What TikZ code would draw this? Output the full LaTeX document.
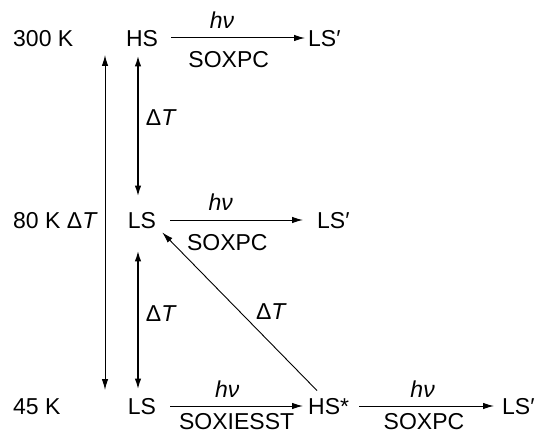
\documentclass[tikz,border=0pt]{standalone}
\usepackage{fontspec}
\setmainfont{Liberation Sans}
\usetikzlibrary{arrows.meta}
\begin{document}
\begin{tikzpicture}[x=1pt,y=-1pt,
  every node/.style={font=\fontsize{23}{27}\selectfont, inner sep=0pt, text height=16.5pt, text depth=0pt},
  arr/.style={-{Latex[length=11pt,width=6.5pt]}, line width=1pt},
  darr/.style={{Latex[length=11pt,width=6.5pt]}-{Latex[length=11pt,width=6.5pt]}},
  thin arr/.style={-{Latex[length=11pt,width=6.5pt]}, line width=0.9pt}]
\useasboundingbox (0,0) rectangle (538,433);
% nodes
\node[anchor=west] (t300) at (13,38) {300 K};
\node (hs1) at (142,38) {HS};
\node[anchor=west] (lsp1) at (308,38) {LS′};
\node[anchor=west] (t80) at (13,220) {80 K Δ\textit{T}};
\node (ls2) at (142,220) {LS};
\node[anchor=west] (lsp2) at (317,220) {LS′};
\node[anchor=west] (t45) at (13,406) {45 K};
\node (ls3) at (142,406) {LS};
\node[anchor=west] (hss) at (308,406) {HS*};
\node[anchor=west] (lsp3) at (502,406) {LS′};
\coordinate (ltop) at (105,55);
\coordinate (lbot) at (105,390);
% horizontal arrows
\draw[arr] ([xshift=13pt]hs1.east) -- ([xshift=-3pt]lsp1.west)
  node[pos=0.38, above=9pt] {\textit{hν}}
  node[pos=0.43, below=13pt] {SOXPC};
\draw[arr] ([xshift=14pt]ls2.east) -- ([xshift=-14pt]lsp2.west)
  node[pos=0.38, above=9pt] {\textit{hν}}
  node[pos=0.43, below=13pt] {SOXPC};
\draw[arr] ([xshift=14pt]ls3.east) -- ([xshift=-5pt]hss.west)
  node[pos=0.43, above=8pt] {\textit{hν}}
  node[pos=0.5, below=6pt] {SOXIESST};
\draw[arr] ([xshift=10pt]hss.east) -- ([xshift=-8pt]lsp3.west)
  node[pos=0.47, above=8pt] {\textit{hν}}
  node[pos=0.48, below=6pt] {SOXPC};
% vertical arrows
\draw[darr, line width=1pt] (ltop) -- (lbot);
\draw[darr, line width=1.8pt] ([xshift=-4pt,yshift=-9pt]hs1.south) -- ([xshift=-4pt,yshift=15pt]ls2.north)
  node[pos=0.44, right=7pt] {Δ\textit{T}};
\draw[darr, line width=1.8pt] ([xshift=-4pt,yshift=-22pt]ls2.south) -- ([xshift=-4pt,yshift=8pt]ls3.north)
  node[pos=0.45, right=7pt] {Δ\textit{T}};
% diagonal
\draw[thin arr] ([xshift=9pt,yshift=7pt]hss.north west) -- ([xshift=6pt,yshift=-4pt]ls2.south east)
  node[pos=0.5, right=16pt] {Δ\textit{T}};
\end{tikzpicture}
\end{document}
